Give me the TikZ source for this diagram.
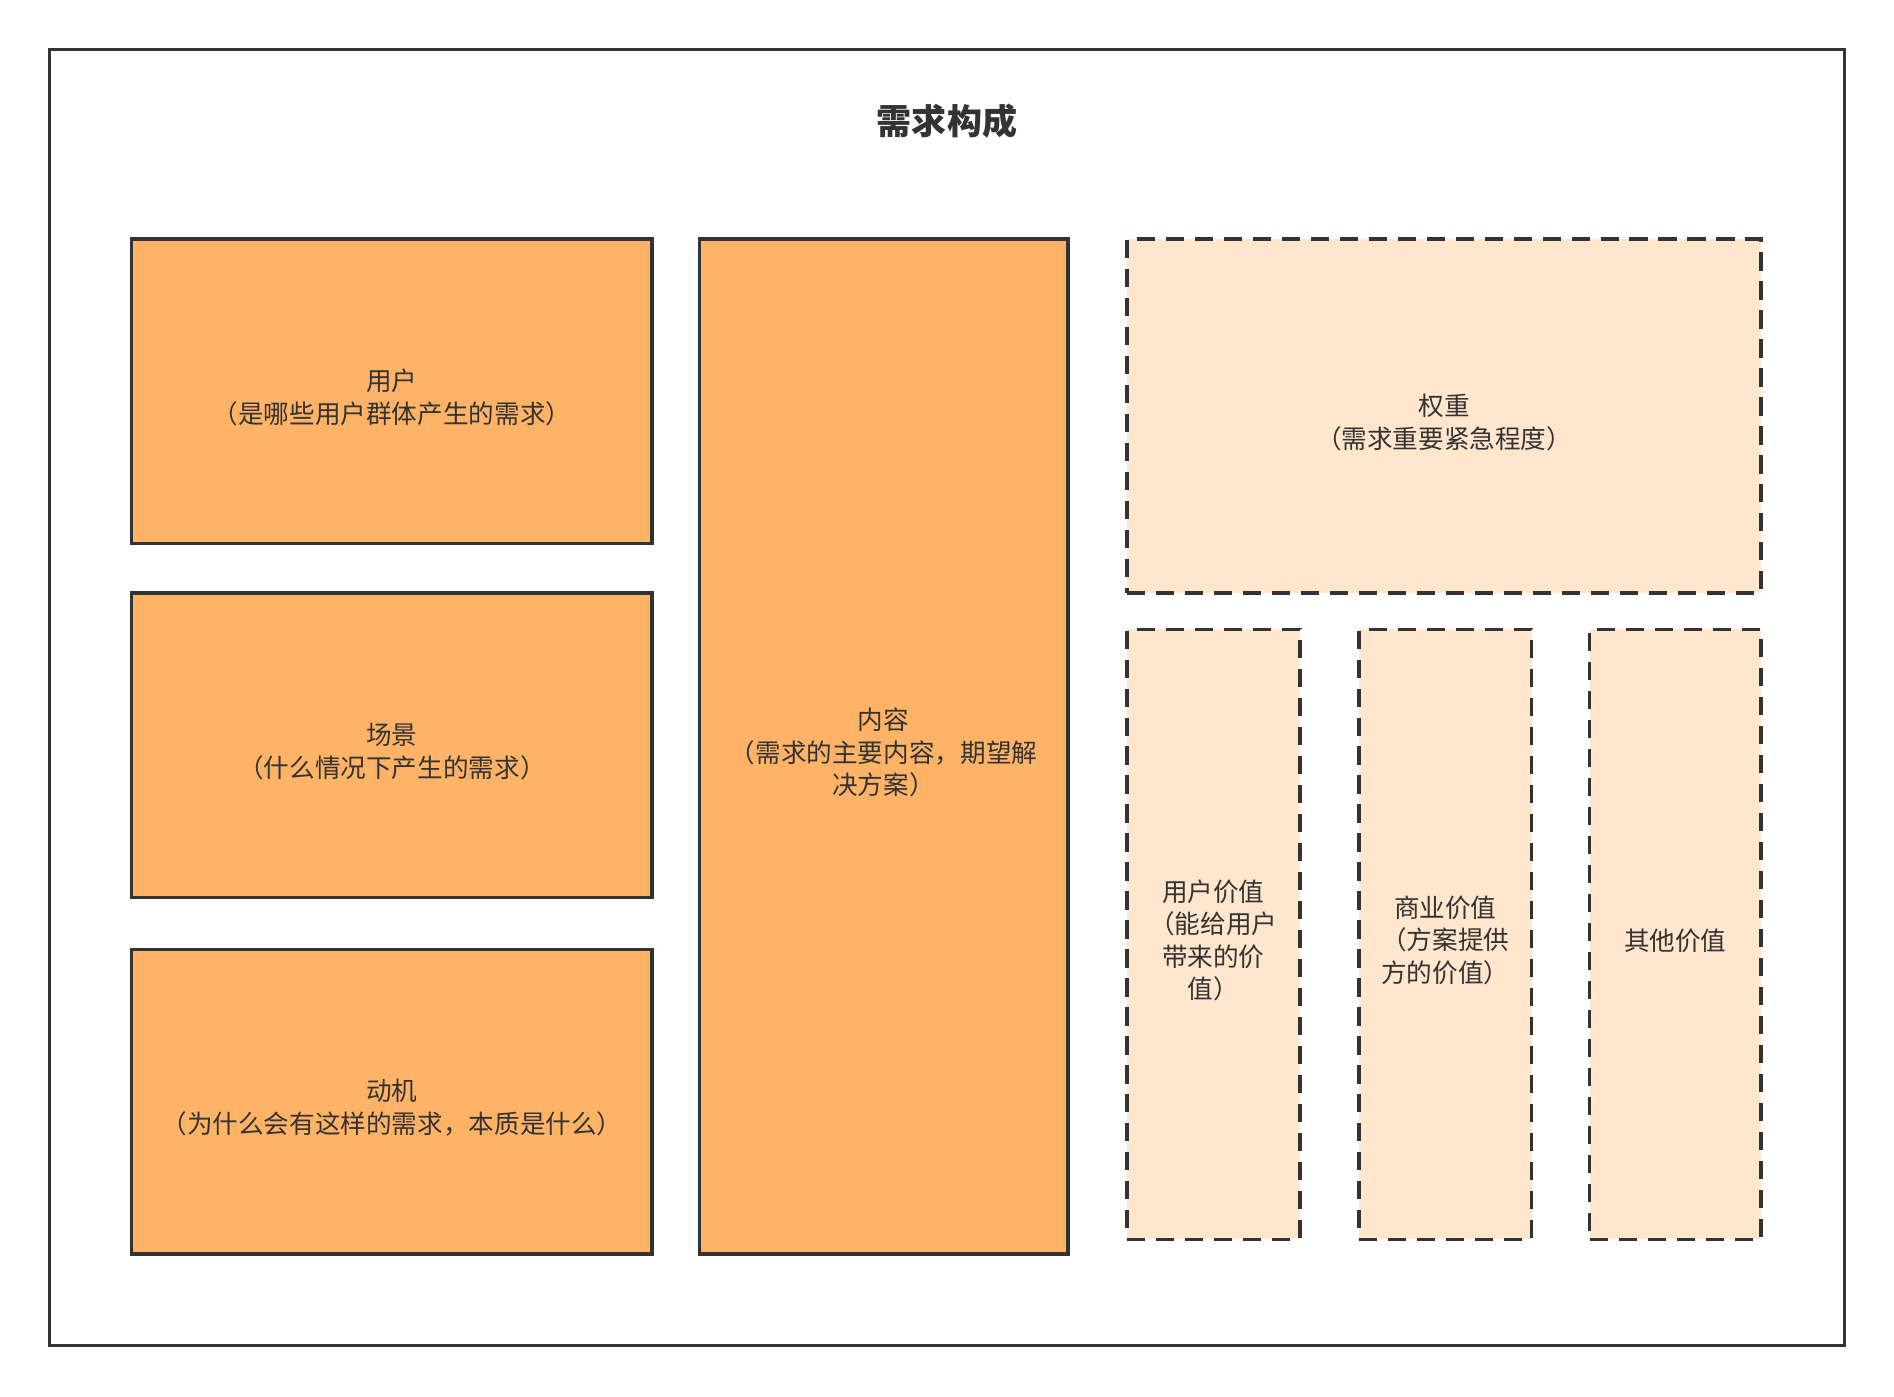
\documentclass[tikz,border=0pt]{standalone}
\usepackage{fontspec}
\setmainfont{Noto Sans CJK SC}
\definecolor{linegray}{HTML}{333333}
\definecolor{boxorange}{HTML}{FFB366}
\definecolor{boxpeach}{HTML}{FFE6CC}
\begin{document}
\begin{tikzpicture}[x=1pt,y=-1pt,
    solidbox/.style={draw=linegray,line width=3pt,fill=boxorange,inner sep=0pt},
    dashbox/.style={solidbox,fill=boxpeach,dash pattern=on 15pt off 9pt},
    boxtext/.style={text=linegray,align=center,inner sep=0pt,yshift=-5pt,font=\fontsize{21.2}{27}\selectfont}]
    \useasboundingbox (0,0) rectangle (1568,1156);
    \node [draw=linegray,line width=3pt,minimum width=1486pt,minimum height=1073pt] (frame) at (784,577.5) {};
    \node [font=\fontsize{29}{34}\selectfont\bfseries,text=linegray] (title) at (784,100) {需求构成};
    \node [solidbox,minimum width=431pt,minimum height=252pt,label={[boxtext]center:{用户\\（是哪些用户群体产生的需求）}}] (user) at (324.5,324) {};
    \node [solidbox,minimum width=431pt,minimum height=252pt,label={[boxtext]center:{场景\\（什么情况下产生的需求）}}] (scene) at (324.5,617) {};
    \node [solidbox,minimum width=431pt,minimum height=252pt,label={[boxtext]center:{动机\\（为什么会有这样的需求，本质是什么）}}] (motive) at (324.5,912) {};
    \node [solidbox,minimum width=305pt,minimum height=840pt,label={[boxtext]center:{内容\\（需求的主要内容，期望解\\决方案）}}] (content) at (731.5,618) {};
    \node [dashbox,minimum width=525pt,minimum height=293pt,label={[boxtext]center:{权重\\（需求重要紧急程度）}}] (weight) at (1195.5,344.5) {};
    \node [dashbox,minimum width=143pt,minimum height=505pt,label={[boxtext]center:{用户价值\\（能给用户\\带来的价\\值）}}] (uservalue) at (1004.5,773.5) {};
    \node [dashbox,minimum width=143pt,minimum height=505pt,label={[boxtext]center:{商业价值\\（方案提供\\方的价值）}}] (bizvalue) at (1196.5,773.5) {};
    \node [dashbox,minimum width=142pt,minimum height=505pt,label={[boxtext]center:{其他价值}}] (othervalue) at (1387,773.5) {};
\end{tikzpicture}
\end{document}
